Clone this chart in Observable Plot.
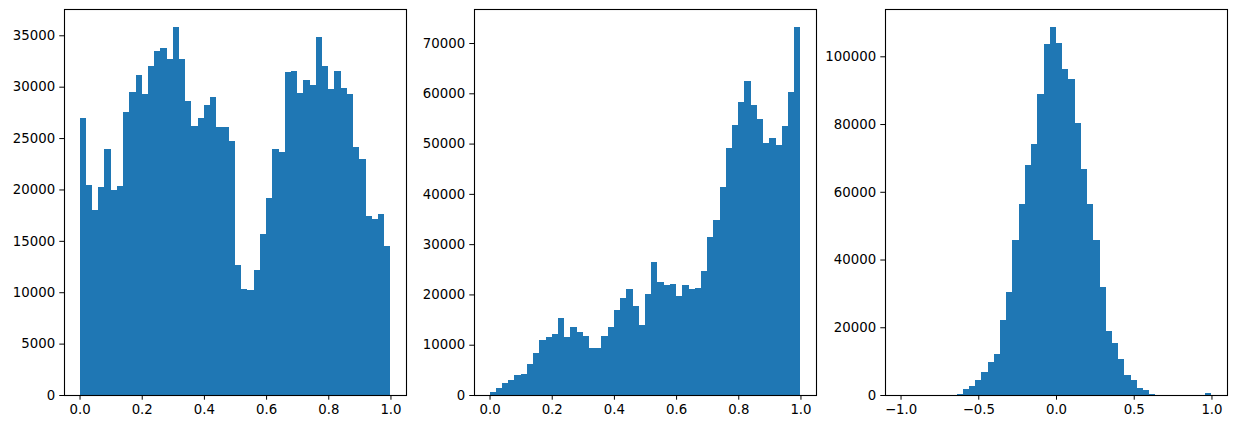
<!DOCTYPE html>
<html>
<head>
<meta charset="utf-8">
<script src="https://cdn.jsdelivr.net/npm/d3@7"></script>
<script src="https://cdn.jsdelivr.net/npm/@observablehq/plot@0.6"></script>
<style>
  html, body { margin: 0; padding: 0; background: white; }
  #wrap { position: relative; width: 1236px; height: 428px; overflow: hidden; }
  #wrap > div { position: absolute; top: 0; }
</style>
</head>
<body>
<div id="wrap"><div id="p1"></div><div id="p2"></div><div id="p3"></div></div>
<script>
// Histogram counts (50 bins each)
const counts1 = [27000, 20400, 18000, 20250, 23960, 19950, 20340, 27570, 29520, 31180,
  29330, 32060, 33430, 33720, 32650, 35770, 32650, 28640, 26200, 26980,
  28250, 29030, 26100, 26100, 24740, 12630, 10280, 10190, 12140, 15650,
  19170, 23960, 23660, 31380, 31480, 29430, 30690, 30210, 34800, 32060,
  29820, 31480, 29910, 29330, 24150, 22980, 17410, 17120, 17610, 14480];
const range1 = [0, 1];

const counts2 = [590, 1460, 2460, 3060, 3920, 4250, 6250, 8440, 10840, 11440,
  12040, 15230, 11440, 13430, 12440, 11640, 9440, 9440, 11640, 13430,
  16830, 19220, 21020, 17620, 13830, 20020, 26410, 22410, 21820, 22020,
  19620, 21820, 21020, 21220, 24610, 31400, 34790, 41380, 49160, 53750,
  58340, 62540, 57740, 54950, 50160, 51160, 49760, 53550, 60340, 73110];
const range2 = [0, 1];

const counts3 = [0, 0, 0, 0, 0, 0, 0, 0, 0, 400,
  1870, 2760, 4530, 6900, 9870, 12240, 22020, 30310, 45720, 56390,
  67940, 74160, 88980, 103500, 108540, 103800, 96390, 93420, 80390, 66760,
  56390, 45720, 31790, 18760, 15500, 10760, 6010, 4530, 2160, 1570,
  400, 0, 0, 0, 0, 0, 0, 0, 0, 450];
const range3 = [-1, 1];

const xTicks1 = [0, 0.2, 0.4, 0.6, 0.8, 1.0];
const yTicks1 = [0, 5000, 10000, 15000, 20000, 25000, 30000, 35000];
const xTicks2 = [0, 0.2, 0.4, 0.6, 0.8, 1.0];
const yTicks2 = [0, 10000, 20000, 30000, 40000, 50000, 60000, 70000];
const xTicks3 = [-1.0, -0.5, 0.0, 0.5, 1.0];
const yTicks3 = [0, 20000, 40000, 60000, 80000, 100000];

function bins(counts, range) {
  const n = counts.length, w = (range[1] - range[0]) / n;
  return counts.map((c, i) => ({x1: range[0] + i * w, x2: range[0] + (i + 1) * w, y: c}));
}

function hist(el, left, width, mL, mR, counts, range, xTicks, yTicks) {
  const data = bins(counts, range);
  const span = range[1] - range[0];
  const ymax = d3.max(counts) * 1.05;
  const p = Plot.plot({
    width, height: 428,
    marginTop: 9, marginBottom: 33, marginLeft: mL, marginRight: mR,
    style: {fontFamily: "DejaVu Sans", fontSize: "13.3px", background: "white", color: "black", overflow: "visible"},
    x: {domain: [range[0] - 0.05 * span, range[1] + 0.05 * span], ticks: xTicks, tickFormat: d3.format(".1f"), tickSize: 4.7, tickPadding: 4.7, label: null},
    y: {domain: [0, ymax], ticks: yTicks, tickFormat: d3.format("d"), tickSize: 4.7, tickPadding: 4.7, label: null},
    marks: [
      Plot.rectY(data, {x1: "x1", x2: "x2", y: "y", fill: "#1f77b4", inset: 0, shapeRendering: "crispEdges"}),
      Plot.frame({stroke: "black", strokeWidth: 1.1})
    ]
  });
  const holder = document.getElementById(el);
  holder.style.left = left + "px";
  holder.appendChild(p);
}

hist("p1", 0, 410, 64, 4, counts1, range1, xTicks1, yTicks1);
hist("p2", 410, 410, 64, 4, counts2, range2, xTicks2, yTicks2);
hist("p3", 820, 416, 65, 9, counts3, range3, xTicks3, yTicks3);
</script>
</body>
</html>
